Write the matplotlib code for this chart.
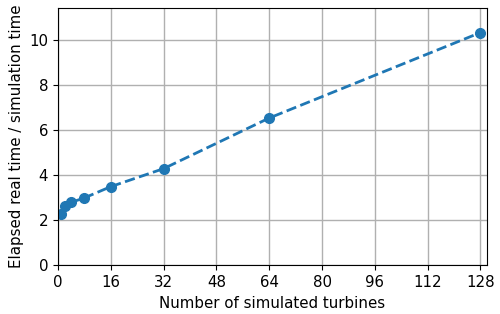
import matplotlib
matplotlib.use("Agg")
import matplotlib.pyplot as plt

plt.rcParams["font.size"] = 10.8

turbines = [1, 2, 4, 8, 16, 32, 64, 128]
ratio = [2.3, 2.65, 2.8, 3.0, 3.5, 4.3, 6.55, 10.35]
xticks = [0, 16, 32, 48, 64, 80, 96, 112, 128]

fig, ax = plt.subplots(figsize=(5, 3.14), dpi=100)
ax.plot(turbines, ratio, "o--", color="#1f77b4", lw=2.0, ms=7)
ax.set_xticks(xticks)
ax.set_xlim(0, 130)
ax.set_ylim(0, 11.45)
ax.grid(True, color="#b0b0b0", lw=1.0)
ax.set_axisbelow(True)
ax.set_xlabel("Number of simulated turbines")
ax.set_ylabel("Elapsed real time / simulation time")
fig.subplots_adjust(left=0.116, right=0.974, top=0.975, bottom=0.155)
fig.savefig("out.png", dpi=100)
